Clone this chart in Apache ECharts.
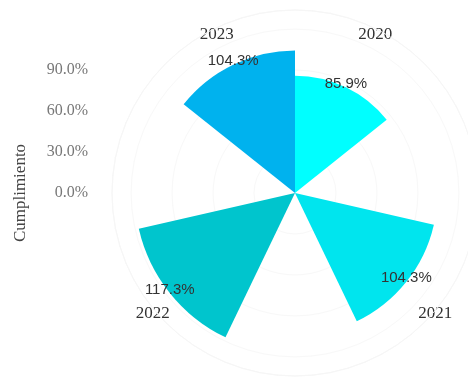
<!DOCTYPE html>
<html>
<head>
<meta charset="utf-8">
<script src="https://cdn.jsdelivr.net/npm/echarts@6/dist/echarts.min.js"></script>
<style>
  html, body { margin: 0; padding: 0; background: #fff; }
  #main { width: 468px; height: 385px; }
</style>
</head>
<body>
<div id="main"></div>
<script>
// datos
const years = ['2020', '2021', '2022', '2023'];
const cumplimiento = [85.9, 104.3, 117.3, 104.3];
const colors = ['#00FFFF', '#00E5EE', '#00C5CD', '#00B2EE'];
const yTicks = [0, 30, 60, 90];
// small nudges for the year labels [top, right, bottom, left]
const yearPads = [[0, 0, -2, -10], [7, 0, 0, -9], [7, -7, 0, 0], [0, -12, -2, 0]];

// 7 slots around the circle, years on every other slot
const slots = [];
const barData = [];
years.forEach((y, i) => {
  slots.push({ value: y, textStyle: { padding: yearPads[i] } });
  barData.push({ value: cumplimiento[i], itemStyle: { color: colors[i] } });
  if (i < years.length - 1) {
    slots.push('');
    barData.push('-');
  }
});

const chart = echarts.init(document.getElementById('main'));

const option = {
  backgroundColor: '#fff',
  animation: false,
  polar: {
    center: [295, 193],
    radius: 183
  },
  angleAxis: {
    type: 'category',
    data: slots,
    startAngle: 90,
    clockwise: true,
    axisLine: { show: true, lineStyle: { color: '#f6f6f6' } },
    axisTick: { show: false },
    splitLine: { show: false },
    axisLabel: {
      margin: -14,
      fontFamily: 'Liberation Serif',
      fontSize: 17,
      color: '#333'
    }
  },
  radiusAxis: {
    type: 'value',
    min: 0,
    max: 134,
    interval: 30,
    axisLine: { show: false },
    axisTick: { show: false },
    axisLabel: { show: false },
    splitLine: { show: true, lineStyle: { color: '#f8f8f8' } }
  },
  // left scale with the axis name
  grid: {
    left: 95,
    top: 70,
    height: 246,
    width: 10
  },
  xAxis: { type: 'value', show: false },
  yAxis: {
    type: 'value',
    min: -90,
    max: 90,
    interval: 30,
    name: 'Cumplimiento',
    nameLocation: 'middle',
    nameGap: 66,
    nameTextStyle: {
      fontFamily: 'Liberation Serif',
      fontSize: 17,
      color: '#444'
    },
    axisLine: { show: false },
    axisTick: { show: false },
    splitLine: { show: false },
    axisLabel: {
      margin: 7,
      fontFamily: 'Liberation Serif',
      fontSize: 16,
      color: '#777',
      formatter: v => (yTicks.indexOf(v) >= 0 ? v.toFixed(1) + '%' : '')
    }
  },
  series: [
    {
      name: 'Cumplimiento',
      type: 'bar',
      coordinateSystem: 'polar',
      data: barData,
      barCategoryGap: '0%',
      label: {
        show: true,
        position: 'end',
        distance: 0,
        rotate: 0,
        align: 'center',
        verticalAlign: 'bottom',
        offset: [0, 4],
        fontFamily: 'Liberation Sans',
        fontSize: 15,
        color: '#333',
        formatter: p => p.value.toFixed(1) + '%'
      }
    }
  ]
};

chart.setOption(option);
</script>
</body>
</html>
